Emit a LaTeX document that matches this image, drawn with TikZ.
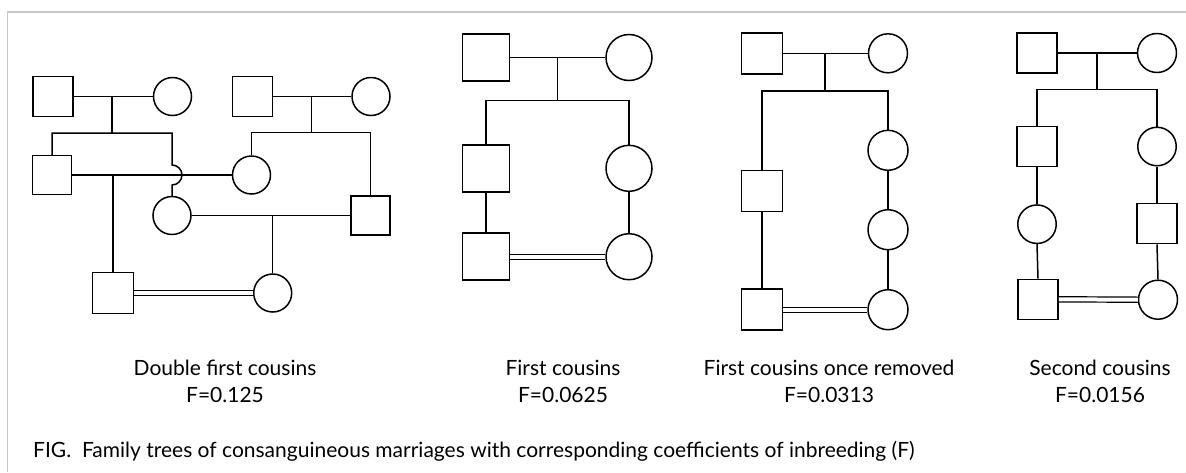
\documentclass[tikz,border=0pt]{standalone}
\usepackage{fontspec}
\setmainfont{Lato}
\begin{document}
\begin{tikzpicture}[x=1pt,y=-1pt,
  ln/.style={line width=1.5pt, black},
  male/.style={draw, line width=1.5pt, rectangle, minimum size=#1, inner sep=0pt, fill=white},
  female/.style={draw, line width=1.5pt, circle, minimum size=#1, inner sep=0pt, fill=white},
  wed/.style={line width=1.2pt, double=white, double distance=4pt},
  lbl/.style={font=\fontsize{21}{25}\selectfont, align=center, inner sep=0pt, anchor=base},
  captext/.style={font=\fontsize{21}{25}\selectfont, inner sep=0pt, anchor=base west},
  framestyle/.style={line width=1.2pt, draw=black!22}
]
\useasboundingbox (0,0) rectangle (1186,472);
\draw[framestyle] (7.5,472) -- (7.5,12) -- (1186,12);

% ---------- Tree 1: double first cousins ----------
\node[male=40] (A) at (53,96.5) {};
\node[female=38] (B) at (172.5,96.5) {};
\node[male=40] (H) at (252.5,96.5) {};
\node[female=38] (I) at (371,96.5) {};
\node[male=39] (C) at (52,175) {};
\node[female=38] (E) at (251.5,175) {};
\node[female=38] (D) at (172,215.5) {};
\node[male=39] (J) at (370.5,215.5) {};
\node[male=41] (G) at (113,293) {};
\node[female=38] (K) at (272.7,293) {};
\coordinate (m1) at (112,96.5);
\coordinate (s1) at (112,133);
\coordinate (s1R) at (172,133);
\coordinate (hop) at (172,165);
\coordinate (m2) at (311.7,96.5);
\coordinate (s2) at (311.7,132.3);
\coordinate (m3) at (113,175);
\coordinate (m4) at (272.7,215.5);
\draw[ln] (A.east) -- (B.west);
\draw[ln] (m1) -- (s1);
\draw[ln] (C.north) |- (s1R) -- (hop) arc[start angle=90, end angle=-90, radius=10pt] -- (D.north);
\draw[ln] (H.east) -- (I.west);
\draw[ln] (m2) -- (s2);
\draw[ln] (E.north) |- (s2) -| (J.north);
\draw[ln] (C.east) -- (E.west);
\draw[ln] (m3) -- (G.north);
\draw[ln] (D.east) -- (J.west);
\draw[ln] (m4) -- (K.north);
\draw[wed] (G.east) -- (K.west);

% ---------- Tree 2: first cousins ----------
\node[male=47] (P) at (486,57.5) {};
\node[female=46] (Q) at (629,57.5) {};
\node[male=47] (R) at (486,168.3) {};
\node[female=46] (S) at (629,168.3) {};
\node[male=47] (T) at (486,256.7) {};
\node[female=46] (U) at (629,256.7) {};
\coordinate (m5) at (557.7,57.5);
\coordinate (s5) at (557.7,100.7);
\draw[ln] (P.east) -- (Q.west);
\draw[ln] (m5) -- (s5);
\draw[ln] (R.north) |- (s5) -| (S.north);
\draw[ln] (R.south) -- (T.north);
\draw[ln] (S.south) -- (U.north);
\draw[wed] (T.east) -- (U.west);

% ---------- Tree 3: first cousins once removed ----------
\node[male=41] (V) at (762,53.3) {};
\node[female=39] (W) at (888,53.3) {};
\node[male=41] (X) at (762,191) {};
\node[female=40] (Y1) at (888,150.3) {};
\node[female=40] (Y2) at (888,229.7) {};
\node[female=40] (Y3) at (888,309.7) {};
\node[male=41] (Z) at (762,309.7) {};
\coordinate (m6) at (825,53.3);
\coordinate (s6) at (825,91);
\draw[ln] (V.east) -- (W.west);
\draw[ln] (m6) -- (s6);
\draw[ln] (X.north) |- (s6) -| (Y1.north);
\draw[ln] (X.south) -- (Z.north);
\draw[ln] (Y1.south) -- (Y2.north);
\draw[ln] (Y2.south) -- (Y3.north);
\draw[wed] (Z.east) -- (Y3.west);

% ---------- Tree 4: second cousins ----------
\node[male=40] (AA) at (1037,53) {};
\node[female=39] (AB) at (1157,53) {};
\node[male=40] (AC) at (1037,146.3) {};
\node[female=38.5] (AD) at (1037,224.2) {};
\node[male=40] (AE) at (1038,299.3) {};
\node[female=38.5] (AF) at (1157,146.5) {};
\node[male=40] (AG) at (1157,223.7) {};
\node[female=39] (AH) at (1158,299.7) {};
\coordinate (m7) at (1097,53);
\coordinate (s7) at (1097,89.3);
\draw[ln] (AA.east) -- (AB.west);
\draw[ln] (m7) -- (s7);
\draw[ln] (AC.north) |- (s7) -| (AF.north);
\draw[ln] (AC.south) -- (AD.north);
\draw[ln] (AD.south) -- (AE.north);
\draw[ln] (AF.south) -- (AG.north);
\draw[ln] (AG.south) -- (AH.north);
\draw[wed] (AE.east) -- (AH.west);

% ---------- Labels ----------
\node[lbl] (L1) at (225,375) {Double first cousins};
\node[lbl] (F1) at (225,402) {F=0.125};
\node[lbl] (L2) at (563,375) {First cousins};
\node[lbl] (F2) at (563,402) {F=0.0625};
\node[lbl] (L3) at (829,375) {First cousins once removed};
\node[lbl] (F3) at (829,402) {F=0.0313};
\node[lbl] (L4) at (1100,375) {Second cousins};
\node[lbl] (F4) at (1100,402) {F=0.0156};
\node[captext] (CAP) at (33,457) {FIG.\ \ Family trees of consanguineous marriages with corresponding coefficients of inbreeding (F)};
\end{tikzpicture}
\end{document}
